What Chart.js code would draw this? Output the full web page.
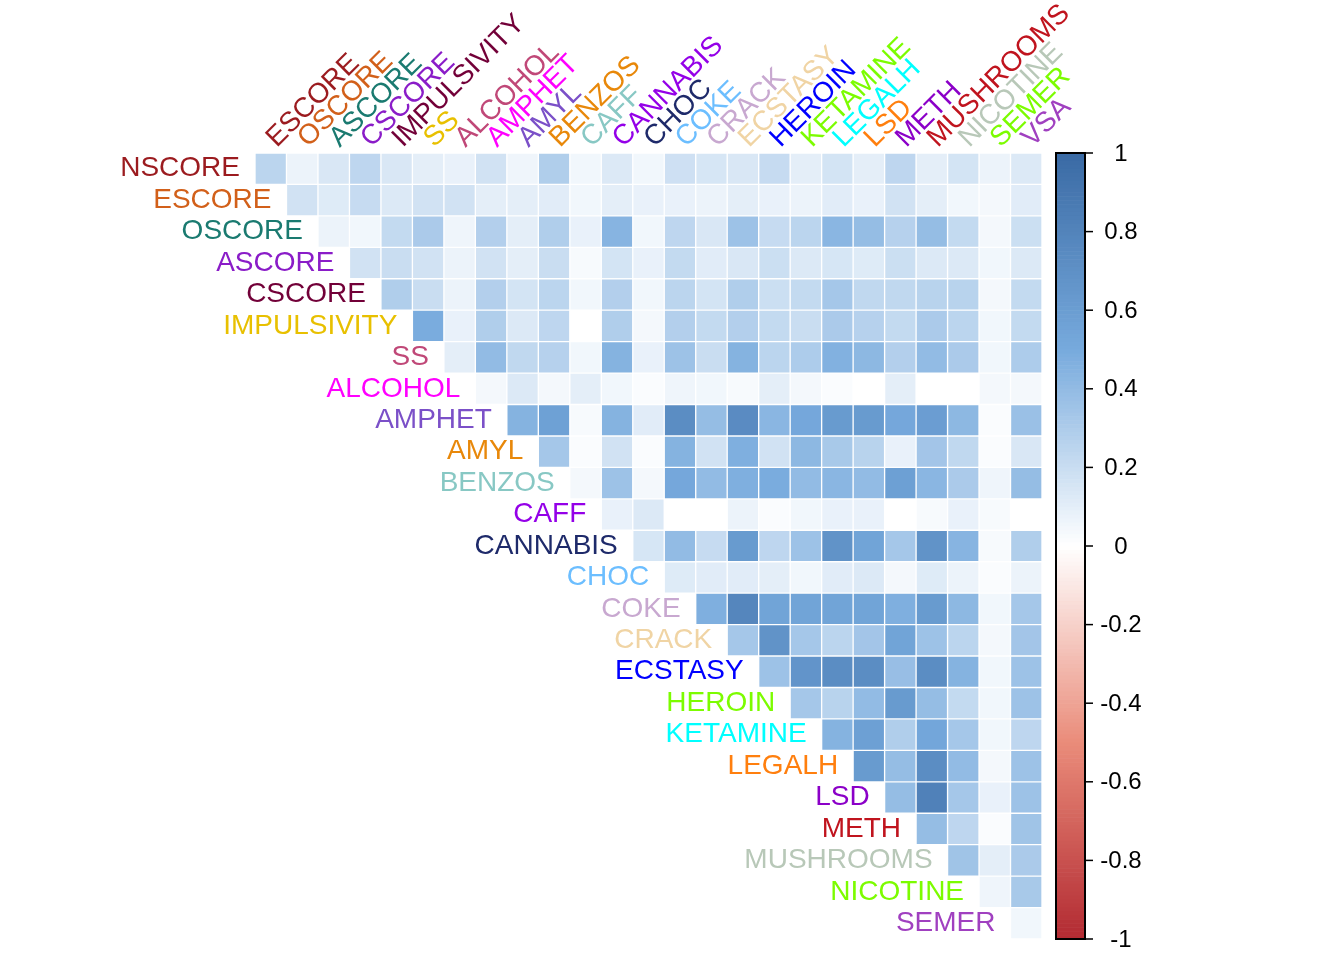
<!DOCTYPE html>
<html>
<head>
<meta charset="utf-8">
<title>Correlation matrix</title>
<script src="https://cdn.jsdelivr.net/npm/chart.js@4/dist/chart.umd.min.js"></script>
<style>
  html, body { margin: 0; padding: 0; background: #ffffff; }
  #corrChart { display: block; }
</style>
</head>
<body>
<canvas id="corrChart" width="1344" height="960"></canvas>
<script>
// variable names (rows go NSCORE..SEMER, columns ESCORE..VSA)
const rowNames = ['NSCORE', 'ESCORE', 'OSCORE', 'ASCORE', 'CSCORE', 'IMPULSIVITY', 'SS', 'ALCOHOL',
  'AMPHET', 'AMYL', 'BENZOS', 'CAFF', 'CANNABIS', 'CHOC', 'COKE', 'CRACK', 'ECSTASY', 'HEROIN',
  'KETAMINE', 'LEGALH', 'LSD', 'METH', 'MUSHROOMS', 'NICOTINE', 'SEMER'];
const colNames = ['ESCORE', 'OSCORE', 'ASCORE', 'CSCORE', 'IMPULSIVITY', 'SS', 'ALCOHOL', 'AMPHET',
  'AMYL', 'BENZOS', 'CAFF', 'CANNABIS', 'CHOC', 'COKE', 'CRACK', 'ECSTASY', 'HEROIN', 'KETAMINE',
  'LEGALH', 'LSD', 'METH', 'MUSHROOMS', 'NICOTINE', 'SEMER', 'VSA'];

// label colours, same sequence used for rows and columns
const labelColors = ['#9b1b1f', '#d2601a', '#1a7a70', '#8a1cc8', '#720038', '#e8c000', '#c04878',
  '#ff00ff', '#7b50c8', '#e8880a', '#88c8c4', '#9400e8', '#1e2a6a', '#6cbeff', '#c8a8d0', '#f0d4a4',
  '#0000ff', '#7cfc00', '#00ffff', '#ff7f0e', '#8b00c8', '#c0141e', '#b8c8b8', '#7cfc00', '#a040c0'];

// upper triangle: row i holds the values for columns i..24
const corrRows = [
  [0.25, 0.07, 0.14, 0.24, 0.14, 0.10, 0.08, 0.17, 0.06, 0.29, 0.05, 0.13, 0.05, 0.18, 0.15, 0.14, 0.21, 0.10, 0.16, 0.10, 0.24, 0.10, 0.16, 0.07, 0.13],
  [0.17, 0.12, 0.21, 0.13, 0.17, 0.17, 0.10, 0.10, 0.11, 0.05, 0.10, 0.08, 0.08, 0.07, 0.10, 0.08, 0.07, 0.11, 0.08, 0.17, 0.10, 0.05, 0.04, 0.11],
  [0.07, 0.05, 0.22, 0.31, 0.06, 0.28, 0.10, 0.29, 0.08, 0.44, 0.05, 0.24, 0.14, 0.36, 0.21, 0.25, 0.43, 0.39, 0.27, 0.39, 0.22, 0.04, 0.19],
  [0.17, 0.20, 0.17, 0.07, 0.17, 0.10, 0.20, 0.03, 0.16, 0.08, 0.22, 0.11, 0.14, 0.19, 0.13, 0.15, 0.12, 0.19, 0.13, 0.13, 0.05, 0.13],
  [0.29, 0.20, 0.07, 0.28, 0.16, 0.25, 0.05, 0.28, 0.05, 0.25, 0.16, 0.29, 0.19, 0.22, 0.33, 0.23, 0.23, 0.26, 0.26, 0.04, 0.22],
  [0.49, 0.08, 0.29, 0.13, 0.24, 0.00, 0.29, 0.04, 0.28, 0.22, 0.28, 0.22, 0.20, 0.31, 0.27, 0.22, 0.31, 0.25, 0.05, 0.22],
  [0.10, 0.40, 0.23, 0.27, 0.05, 0.45, 0.08, 0.36, 0.20, 0.45, 0.25, 0.30, 0.46, 0.42, 0.28, 0.40, 0.31, 0.05, 0.30],
  [0.04, 0.13, 0.04, 0.10, 0.05, 0.02, 0.06, 0.05, 0.03, 0.10, 0.04, 0.02, 0.00, 0.10, 0.00, 0.00, 0.04, 0.04],
  [0.45, 0.57, 0.03, 0.45, 0.11, 0.73, 0.39, 0.74, 0.43, 0.52, 0.62, 0.62, 0.52, 0.60, 0.42, 0.02, 0.37],
  [0.33, 0.02, 0.17, 0.02, 0.45, 0.17, 0.47, 0.17, 0.42, 0.32, 0.26, 0.08, 0.34, 0.23, 0.02, 0.14],
  [0.04, 0.36, 0.04, 0.52, 0.40, 0.47, 0.49, 0.40, 0.43, 0.40, 0.58, 0.43, 0.31, 0.06, 0.39],
  [0.08, 0.13, 0.00, 0.00, 0.07, 0.02, 0.05, 0.08, 0.08, 0.00, 0.03, 0.08, 0.03, 0.00],
  [0.15, 0.40, 0.21, 0.62, 0.24, 0.36, 0.68, 0.55, 0.33, 0.68, 0.44, 0.03, 0.29],
  [0.12, 0.11, 0.11, 0.10, 0.05, 0.11, 0.13, 0.04, 0.12, 0.07, 0.02, 0.07],
  [0.47, 0.78, 0.55, 0.55, 0.55, 0.55, 0.47, 0.62, 0.42, 0.05, 0.33],
  [0.33, 0.68, 0.33, 0.25, 0.34, 0.55, 0.36, 0.25, 0.04, 0.34],
  [0.36, 0.67, 0.73, 0.73, 0.38, 0.73, 0.45, 0.05, 0.36],
  [0.33, 0.26, 0.40, 0.62, 0.39, 0.22, 0.05, 0.36],
  [0.45, 0.58, 0.29, 0.53, 0.33, 0.05, 0.24],
  [0.62, 0.39, 0.73, 0.40, 0.04, 0.36],
  [0.39, 0.82, 0.33, 0.08, 0.36],
  [0.39, 0.24, 0.02, 0.35],
  [0.35, 0.10, 0.31],
  [0.06, 0.32],
  [0.05]
];

// colour bar ticks
const cbTicks = [1, 0.8, 0.6, 0.4, 0.2, 0, -0.2, -0.4, -0.6, -0.8, -1];

// diverging palette, -1 .. 1
const paletteStops = [-1, -0.5, 0, 0.5, 1];
const paletteColors = [[178, 42, 50], [234, 140, 122], [255, 255, 255], [119, 170, 221], [58, 106, 164]];

function colorFor(v) {
  v = Math.max(-1, Math.min(1, v));
  let k = 0;
  while (k < paletteStops.length - 2 && v > paletteStops[k + 1]) k++;
  const t = (v - paletteStops[k]) / (paletteStops[k + 1] - paletteStops[k]);
  const a = paletteColors[k], b = paletteColors[k + 1];
  const c = a.map((x, i) => Math.round(x + (b[i] - x) * t));
  return `rgb(${c[0]}, ${c[1]}, ${c[2]})`;
}

const labelFont = '28px "Liberation Sans", Arial, sans-serif';
const tickFont = '24px "Liberation Sans", Arial, sans-serif';

// one floating-bar dataset per row, each bar spans [row, row + 1]
const datasets = rowNames.map((name, i) => ({
  label: name,
  data: colNames.map((c, j) => (j >= i ? [i, i + 1] : null)),
  backgroundColor: colNames.map((c, j) => (j >= i ? colorFor(corrRows[i][j - i]) : 'rgba(0,0,0,0)')),
  borderColor: 'rgba(255, 255, 255, 0.12)',
  borderWidth: 1,
  borderSkipped: false,
  barPercentage: 1,
  categoryPercentage: 1,
  grouped: false
}));

// labels and colour bar
const decorPlugin = {
  id: 'decor',
  afterDraw(chart) {
    const ctx = chart.ctx;
    const xs = chart.scales.x;
    const ys = chart.scales.y;
    const area = chart.chartArea;
    const half = (xs.getPixelForValue(1) - xs.getPixelForValue(0)) / 2;

    ctx.save();
    ctx.font = labelFont;

    // row labels, right aligned next to the first cell of each row
    ctx.textAlign = 'right';
    ctx.textBaseline = 'middle';
    rowNames.forEach((name, i) => {
      const x = xs.getPixelForValue(i) - half - 15;
      const y = ys.getPixelForValue(i + 0.5);
      ctx.fillStyle = labelColors[i];
      ctx.fillText(name, x, y);
    });

    // column labels, rotated 45 degrees
    ctx.textAlign = 'left';
    ctx.textBaseline = 'alphabetic';
    colNames.forEach((name, j) => {
      const x = xs.getPixelForValue(j) + 6;
      const y = area.top - 5;
      ctx.save();
      ctx.translate(x, y);
      ctx.rotate(-Math.PI / 4);
      ctx.fillStyle = labelColors[j];
      ctx.fillText(name, 0, 0);
      ctx.restore();
    });

    // colour bar: value v sits at the same height as y = (1 - v) / 2 * 25
    const n = rowNames.length;
    const yOf = v => ys.getPixelForValue((1 - v) / 2 * n);
    const bx = area.right + 14;
    const bw = 29;
    const steps = 200;
    for (let s = 0; s < steps; s++) {
      const v0 = 1 - 2 * s / steps;
      const v1 = 1 - 2 * (s + 1) / steps;
      const y0 = yOf(v0), y1 = yOf(v1);
      ctx.fillStyle = colorFor((v0 + v1) / 2);
      ctx.fillRect(bx, y0, bw, y1 - y0 + 0.6);
    }
    ctx.strokeStyle = '#000000';
    ctx.lineWidth = 2;
    ctx.strokeRect(bx, yOf(1), bw, yOf(-1) - yOf(1));

    ctx.font = tickFont;
    ctx.fillStyle = '#000000';
    ctx.textAlign = 'center';
    ctx.textBaseline = 'middle';
    ctx.lineWidth = 1.5;
    cbTicks.forEach(v => {
      const y = yOf(v);
      ctx.beginPath();
      ctx.moveTo(bx + bw, y);
      ctx.lineTo(bx + bw + 8, y);
      ctx.stroke();
      ctx.fillText(String(v), bx + bw + 36, y + 1);
    });
    ctx.restore();
  }
};

const corrChart = new Chart(document.getElementById('corrChart').getContext('2d'), {
  type: 'bar',
  data: { labels: colNames, datasets: datasets },
  options: {
    responsive: false,
    animation: false,
    events: [],
    layout: { padding: { left: 255, right: 302, top: 153, bottom: 21 } },
    plugins: {
      legend: { display: false },
      title: { display: false },
      tooltip: { enabled: false }
    },
    scales: {
      x: { type: 'category', display: false, offset: true },
      y: { type: 'linear', display: false, min: 0, max: rowNames.length, reverse: true }
    }
  },
  plugins: [decorPlugin]
});
</script>
</body>
</html>
